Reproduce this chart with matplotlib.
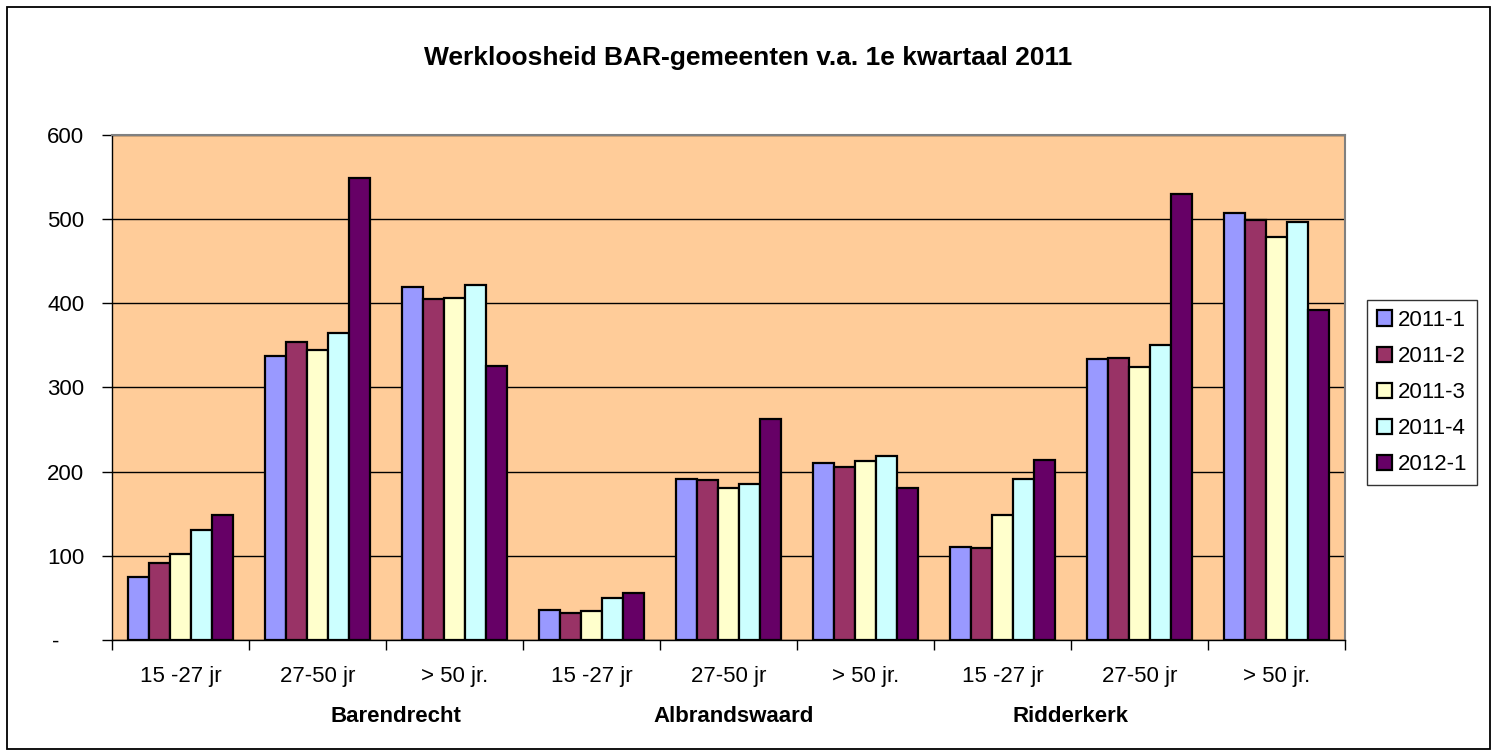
import matplotlib
matplotlib.use("Agg")
import matplotlib.pyplot as plt
from matplotlib.patches import Rectangle
from matplotlib.ticker import FuncFormatter, FixedLocator
import matplotlib.transforms as mtransforms
import numpy as np

plt.rcParams['font.family'] = ['Liberation Sans', 'DejaVu Sans']

categories = ["15 -27 jr", "27-50 jr", "> 50 jr.",
              "15 -27 jr", "27-50 jr", "> 50 jr.",
              "15 -27 jr", "27-50 jr", "> 50 jr."]
groups = ["Barendrecht", "Albrandswaard", "Ridderkerk"]
series_names = ["2011-1", "2011-2", "2011-3", "2011-4", "2012-1"]

s2011_1 = [75, 337, 419, 36, 191, 210, 111, 334, 507]
s2011_2 = [92, 354, 405, 32, 190, 206, 109, 335, 499]
s2011_3 = [102, 344, 406, 34, 180, 213, 149, 324, 478]
s2011_4 = [131, 364, 421, 50, 185, 218, 191, 350, 496]
s2012_1 = [149, 549, 325, 56, 262, 181, 214, 529, 392]
series = [s2011_1, s2011_2, s2011_3, s2011_4, s2012_1]

colors = ["#9999FF", "#993366", "#FFFFCC", "#CCFFFF", "#660066"]

fig = plt.figure(figsize=(14.97, 7.56), dpi=100)
fig.patch.set_facecolor("white")

# outer chart border
fig.patches.append(Rectangle((7 / 1497, 7 / 756), (1490 - 7) / 1497, (749 - 7) / 756,
                             transform=fig.transFigure, fill=False,
                             edgecolor="black", linewidth=1.3, zorder=0))

ax = fig.add_axes([112 / 1497, 1 - 640 / 756, (1345 - 112) / 1497, (640 - 134.7) / 756])
ax.set_facecolor("#FFCC99")

n = len(categories)
x = np.arange(n)
w = 1 / 6.5
for i, (vals, c, name) in enumerate(zip(series, colors, series_names)):
    ax.bar(x + (i - 2) * w, vals, width=w, color=c, edgecolor="black",
           linewidth=1.6, label=name, zorder=3)

ax.set_xlim(-0.5, n - 0.5)
ax.set_ylim(0, 600)
ax.set_yticks(np.arange(0, 601, 100))
ax.yaxis.set_major_formatter(FuncFormatter(lambda v, p: "-    " if v == 0 else f"{int(v)}"))
ax.grid(axis="y", color="black", linewidth=1.0, zorder=1)
ax.set_axisbelow(True)

ax.set_xticks(x)
ax.set_xticklabels(categories)
ax.xaxis.set_minor_locator(FixedLocator(np.arange(-0.5, n, 1.0)))
ax.tick_params(axis="x", which="major", length=0, pad=19, labelsize=16)
ax.tick_params(axis="x", which="minor", length=7, width=1, direction="out")
ax.tick_params(axis="y", length=7, width=1, direction="out", pad=13, labelsize=16)

for side in ["top", "right"]:
    ax.spines[side].set_color("#808080")
    ax.spines[side].set_linewidth(1.5)
for side in ["left", "bottom"]:
    ax.spines[side].set_color("black")
    ax.spines[side].set_linewidth(1.0)

# group labels under the category labels
trans = mtransforms.blended_transform_factory(ax.transData, ax.transAxes)
group_x = [1.57, 4.04, 6.5]
for gx, g in zip(group_x, groups):
    ax.text(gx, -0.152, g, transform=trans, ha="center", va="center",
            fontsize=16, fontweight="bold")

fig.text(0.5, 1 - 58 / 756, "Werkloosheid BAR-gemeenten v.a. 1e kwartaal 2011",
         ha="center", va="center", fontsize=19, fontweight="bold")

leg = ax.legend(loc="upper left", bbox_to_anchor=(1366.5 / 1497, 1 - 300 / 756),
                bbox_transform=fig.transFigure, fontsize=16, frameon=True,
                fancybox=False, edgecolor="black", handlelength=0.7,
                handleheight=0.7, handletextpad=0.25, labelspacing=0.68,
                borderpad=0.45, borderaxespad=0)
leg.get_frame().set_linewidth(1.0)

fig.savefig("out.png", dpi=100, facecolor="white")
